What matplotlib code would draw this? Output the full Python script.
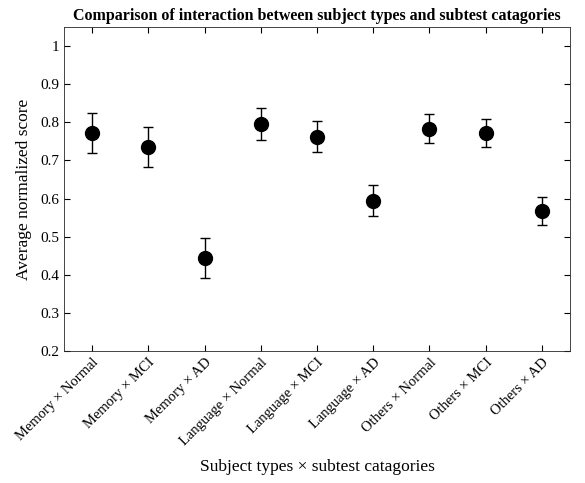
import numpy as np
import matplotlib
matplotlib.use("Agg")
from matplotlib import pyplot as plt

# categories and values
labels = ["Memory \u00d7 Normal", "Memory \u00d7 MCI", "Memory \u00d7 AD",
          "Language \u00d7 Normal", "Language \u00d7 MCI", "Language \u00d7 AD",
          "Others \u00d7 Normal", "Others \u00d7 MCI", "Others \u00d7 AD"]
means = [0.772, 0.735, 0.445, 0.796, 0.762, 0.595, 0.783, 0.772, 0.568]
errors = [0.053, 0.053, 0.053, 0.041, 0.041, 0.041, 0.038, 0.037, 0.037]
yticks = [0.2, 0.3, 0.4, 0.5, 0.6, 0.7, 0.8, 0.9, 1.0]

plt.rcParams["font.family"] = ["Liberation Serif", "DejaVu Serif"]

fig = plt.figure(figsize=(5.85, 4.83), dpi=100)
ax = fig.add_axes([0.1094, 0.273, 0.865, 0.671])

x = np.arange(1, len(means) + 1)
ax.errorbar(x, means, yerr=errors, fmt="o", color="black", ecolor="black",
            markersize=10, elinewidth=1, capsize=3.5, capthick=1)

ax.set_xlim(0.5, 9.5)
ax.set_ylim(0.2, 1.05)
ax.set_yticks(yticks)
ax.set_yticklabels([f"{v:g}" for v in yticks])
ax.set_xticks(x)
ax.set_xticklabels(labels, rotation=45, ha="right", rotation_mode="anchor")
ax.tick_params(direction="in", top=True, right=True, labelsize=11, length=4)
ax.tick_params(axis="x", labelsize=10.5)
for s in ax.spines.values():
    s.set_linewidth(0.6)
    s.set_color("#262626")

ax.set_title("Comparison of interaction between subject types and subtest catagories",
             fontsize=11.5, fontweight="bold", pad=5)
ax.set_xlabel("Subject types \u00d7 subtest catagories", fontsize=12.5, labelpad=8)
ax.set_ylabel("Average normalized score", fontsize=12.5, labelpad=6)

fig.savefig("out.png", dpi=100)
